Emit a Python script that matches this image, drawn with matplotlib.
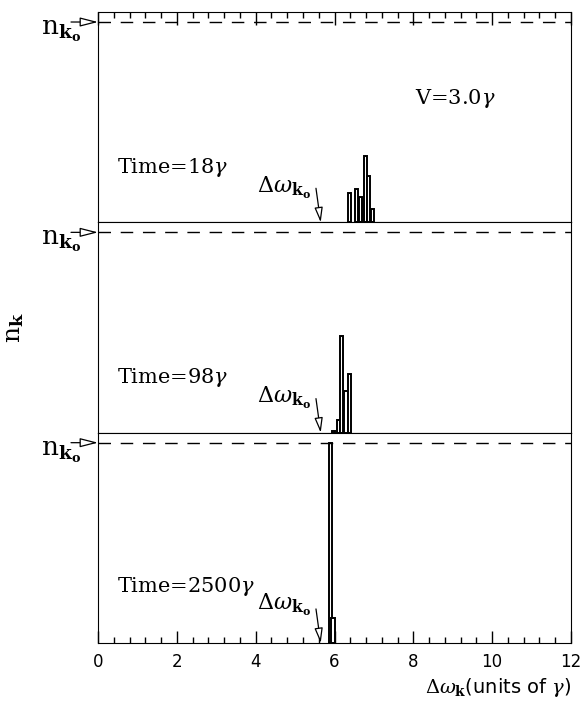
import matplotlib.pyplot as plt

plt.rcParams['mathtext.fontset'] = 'dejavuserif'

# bar centres (units of gamma) and heights (units of n_k0)
x18 = [6.37, 6.56, 6.67, 6.79, 6.87, 6.97]
h18 = [0.145, 0.165, 0.125, 0.33, 0.23, 0.065]
x98 = [5.97, 6.10, 6.18, 6.29, 6.38]
h98 = [0.01, 0.065, 0.485, 0.21, 0.295]
x2500 = [5.89, 5.96]
h2500 = [1.0, 0.125]

times = ['Time=18$\\gamma$', 'Time=98$\\gamma$', 'Time=2500$\\gamma$']
xs = [x18, x98, x2500]
hs = [h18, h98, h2500]
dw_k0 = 5.65
label_y = [0.17, 0.175, 0.19]

fig = plt.figure(figsize=(5.83, 7.04), dpi=100)
left, right = 98 / 583, 571 / 583
bottom, top = 1 - 643 / 704, 1 - 12 / 704
ph = (top - bottom) / 3

txt = dict(family='DejaVu Serif', fontsize=15)

for i in range(3):
    ax = fig.add_axes([left, top - (i + 1) * ph, right - left, ph])
    ax.set_xlim(0, 12)
    ax.set_ylim(0, 1.05)
    ax.set_yticks([])
    ax.bar(xs[i], hs[i], width=0.08, facecolor='white', edgecolor='black', linewidth=1.4)
    ax.axhline(1.0, color='black', lw=1, dashes=(9, 7))
    ax.text(0.48, 0.275 if i < 2 else 0.28, times[i], ha='left', va='center', **txt)

    # n_k0 marker on the left
    ax.annotate('', xy=(0, 1.0), xytext=(-27, 0), textcoords='offset pixels',
                arrowprops=dict(arrowstyle='-|>,head_length=1.1,head_width=0.28',
                                fc='white', ec='black', lw=0.9, shrinkA=0, shrinkB=0),
                annotation_clip=False)
    ax.text(-0.42, 1.02, '$\\mathrm{n}_{\\mathbf{k_o}}$', ha='right', va='top',
            fontsize=19, clip_on=False)

    # Delta omega_k0 marker
    ax.annotate('', xy=(dw_k0, 0.0), xytext=(dw_k0 - 0.12, 0.17),
                arrowprops=dict(arrowstyle='-|>,head_length=0.9,head_width=0.25',
                                fc='white', ec='black', lw=0.9, shrinkA=0, shrinkB=0))
    ax.text(5.4, label_y[i], '$\\Delta\\omega_{\\mathbf{k_o}}$', ha='right',
            va='center', fontsize=16)

    ax.set_xticks(range(0, 13, 2))
    ax.set_xticks([v * 0.4 for v in range(31)], minor=True)
    ax.tick_params(axis='x', which='major', direction='in', length=9, width=1)
    ax.tick_params(axis='x', which='minor', direction='in', length=4, width=1)
    if i == 0:
        ax.tick_params(axis='x', which='both', top=True, bottom=False, labelbottom=False)
        ax.text(8.05, 0.62, 'V=3.0$\\gamma$', ha='left', va='center', **txt)
    elif i == 1:
        ax.tick_params(axis='x', which='both', bottom=False, labelbottom=False)
        ax.set_ylabel('$\\mathrm{n}_{\\mathbf{k}}$', fontsize=18, labelpad=52)
    else:
        ax.tick_params(axis='x', which='both', labelsize=12, pad=7)
        for lab in ax.get_xticklabels():
            lab.set_family('DejaVu Sans')
        ax.set_xlabel('$\\Delta\\omega_{\\mathbf{k}}$(units of $\\gamma$)', fontsize=14,
                      loc='right', labelpad=4)

fig.savefig('out.png', dpi=100)
